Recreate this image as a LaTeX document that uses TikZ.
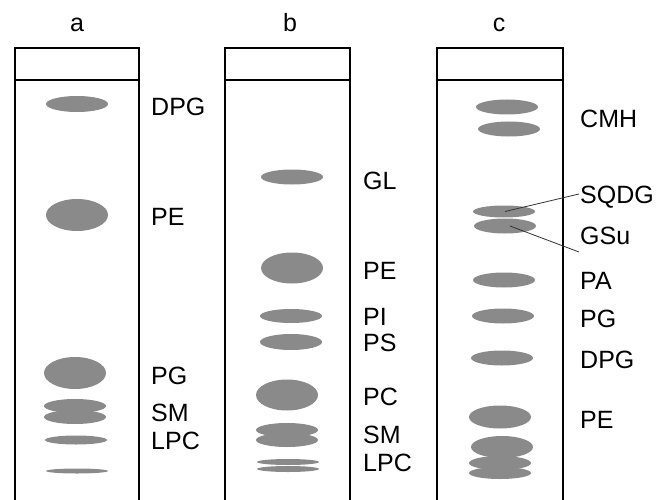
\documentclass[tikz,border=0pt]{standalone}
\usepackage{fontspec}
\setmainfont{Liberation Sans}
\usetikzlibrary{shapes.geometric}
\definecolor{spotgray}{RGB}{138,138,138}
\tikzset{
  spot/.style={ellipse, fill=spotgray, draw=none, inner sep=0pt, minimum width=62pt},
  lab/.style={anchor=base west, inner sep=0pt, font=\fontsize{25}{28}\selectfont},
  title/.style={anchor=base, inner sep=0pt, font=\fontsize{25}{28}\selectfont},
  plate/.style={line width=1.8pt, black},
  leader/.style={line width=0.8pt, black!80}
}
\begin{document}
\begin{tikzpicture}[x=1pt, y=-1pt]
\useasboundingbox (0,0) rectangle (658,500);
% plates
\draw[plate] (15,502) -- (15,48) -- (139,48) -- (139,502);
\draw[plate] (15,80) -- (139,80);
\draw[plate] (225,502) -- (225,48) -- (350,48) -- (350,502);
\draw[plate] (225,80) -- (350,80);
\draw[plate] (437,502) -- (437,48) -- (563,48) -- (563,502);
\draw[plate] (437,80) -- (563,80);
% titles
\node[title] (ta) at (77,32) {a};
\node[title] (tb) at (290,32) {b};
\node[title] (tc) at (499,32) {c};
% lane a
\node[spot, minimum height=16pt] (adpg) at (77,104) {};
\node[spot, minimum height=32pt] (ape) at (77,215) {};
\node[spot, minimum height=32pt] (apg) at (75,373) {};
\node[spot, minimum height=14pt] (asm1) at (75,406) {};
\node[spot, minimum height=14pt] (asm2) at (75,417) {};
\node[spot, minimum height=9pt] (alpc) at (76,440) {};
\node[spot, minimum height=5pt] (abot) at (77,471) {};
\node[lab] (ladpg) at (151,115.5) {DPG};
\node[lab] (lape) at (151,225) {PE};
\node[lab] (lapg) at (151,384.5) {PG};
\node[lab] (lasm) at (151,421) {SM};
\node[lab] (lalpc) at (151,449.5) {LPC};
% lane b
\node[spot, minimum height=15pt] (bgl) at (292,177) {};
\node[spot, minimum height=31pt] (bpe) at (292,268) {};
\node[spot, minimum height=14pt] (bpi) at (291,316) {};
\node[spot, minimum height=16pt] (bps) at (291,342) {};
\node[spot, minimum height=31pt] (bpc) at (287,395) {};
\node[spot, minimum height=14pt] (bsm1) at (287,430) {};
\node[spot, minimum height=14pt] (bsm2) at (287,440) {};
\node[spot, minimum height=6pt] (blpc1) at (288,462) {};
\node[spot, minimum height=6pt] (blpc2) at (288,469) {};
\node[lab] (lbgl) at (363,189) {GL};
\node[lab] (lbpe) at (363,279.5) {PE};
\node[lab] (lbpi) at (363,325.5) {PI};
\node[lab] (lbps) at (363,351) {PS};
\node[lab] (lbpc) at (363,405) {PC};
\node[lab] (lbsm) at (363,443) {SM};
\node[lab] (lblpc) at (363,471) {LPC};
% lane c
\node[spot, minimum height=15pt] (ccmh1) at (507,107) {};
\node[spot, minimum height=15pt] (ccmh2) at (509,129) {};
\node[spot, minimum height=12pt] (csqdg) at (504,211.5) {};
\node[spot, minimum height=15pt] (cgsu) at (505,226) {};
\node[spot, minimum height=15pt] (cpa) at (504,280) {};
\node[spot, minimum height=15pt] (cpg) at (503,316) {};
\node[spot, minimum height=15pt] (cdpg) at (502,358) {};
\node[spot, minimum height=23pt] (cpe) at (500,417) {};
\node[spot, minimum height=22pt] (cb1) at (502,447) {};
\node[spot, minimum height=14pt] (cb2) at (500,463) {};
\node[spot, minimum height=12pt] (cb3) at (500,473) {};
\node[lab] (lccmh) at (580,128) {CMH};
\node[lab] (lcsqdg) at (580,203) {SQDG};
\node[lab] (lcgsu) at (580,244) {GSu};
\node[lab] (lcpa) at (580,289.5) {PA};
\node[lab] (lcpg) at (580,327) {PG};
\node[lab] (lcdpg) at (580,368) {DPG};
\node[lab] (lcpe) at (580,428) {PE};
% leaders
\draw[leader] ([xshift=1pt]csqdg.center) -- ([xshift=-1pt,yshift=9pt]lcsqdg.base west);
\draw[leader] ([xshift=5pt]cgsu.center) -- ([xshift=-1pt,yshift=-8pt]lcgsu.base west);
\end{tikzpicture}
\end{document}
